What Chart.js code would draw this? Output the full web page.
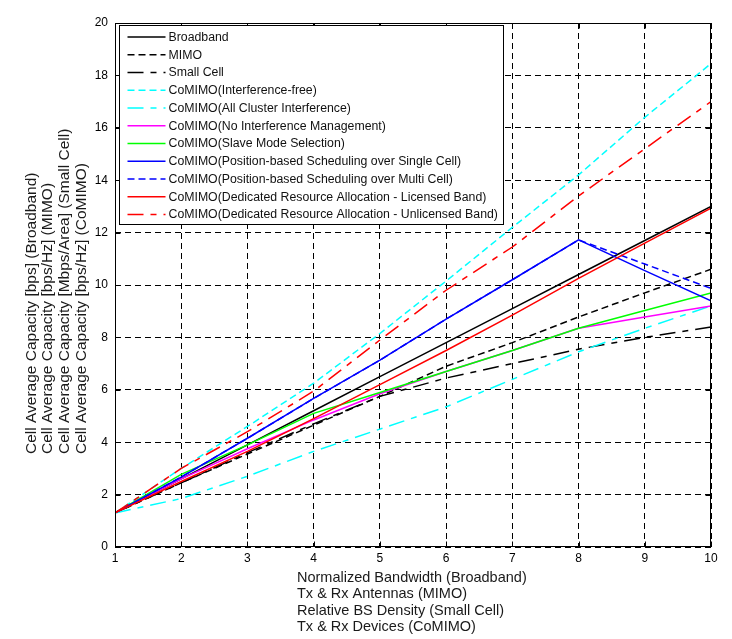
<!DOCTYPE html>
<html>
<head>
<meta charset="utf-8">
<script src="https://cdn.jsdelivr.net/npm/chart.js@4.4.1/dist/chart.umd.min.js"></script>
<style>
  html, body { margin: 0; padding: 0; background: #fff; }
  #wrap { width: 732px; height: 639px; }
</style>
</head>
<body>
<div id="wrap"><canvas id="myChart" width="732" height="639"></canvas></div>
<script>
// x values (same for all series)
var xValues = [1, 2, 3, 4, 5, 6, 7, 8, 9, 10];

// series values
var broadband        = [1.3, 2.6, 3.9, 5.2, 6.5, 7.8, 9.1, 10.4, 11.7, 13.0];
var mimo             = [1.3, 2.45, 3.55, 4.65, 5.75, 6.9, 7.8, 8.78, 9.7, 10.6];
var smallCell        = [1.3, 2.45, 3.6, 4.7, 5.75, 6.45, 7.0, 7.55, 8.0, 8.4];
var interferenceFree = [1.3, 3.0, 4.6, 6.25, 8.15, 10.15, 12.2, 14.2, 16.4, 18.45];
var allCluster       = [1.3, 1.85, 2.7, 3.65, 4.5, 5.35, 6.4, 7.45, 8.35, 9.2];
var noIntfMgmt       = [1.3, 2.6, 3.75, 4.85, 5.85, 6.7, 7.5, 8.35, 8.78, 9.2];
var slaveMode        = [1.3, 2.77, 3.9, 5.1, 5.9, 6.7, 7.5, 8.35, 9.03, 9.7];
var posSingle        = [1.3, 2.67, 4.15, 5.67, 7.13, 8.7, 10.2, 11.72, 10.55, 9.4];
var posMulti         = [1.3, 2.67, 4.15, 5.67, 7.13, 8.7, 10.2, 11.72, 10.8, 9.87];
var licensed         = [1.3, 2.5, 3.65, 4.9, 6.2, 7.5, 8.85, 10.25, 11.6, 12.93];
var unlicensed       = [1.3, 3.0, 4.4, 5.95, 7.9, 9.8, 11.45, 13.4, 15.2, 17.0];

var seriesLabels = [
    'Broadband',
    'MIMO',
    'Small Cell',
    'CoMIMO(Interference-free)',
    'CoMIMO(All Cluster Interference)',
    'CoMIMO(No Interference Management)',
    'CoMIMO(Slave Mode Selection)',
    'CoMIMO(Position-based Scheduling over Single Cell)',
    'CoMIMO(Position-based Scheduling over Multi Cell)',
    'CoMIMO(Dedicated Resource Allocation - Licensed Band)',
    'CoMIMO(Dedicated Resource Allocation - Unlicensed Band)'
];
var seriesValues = [broadband, mimo, smallCell, interferenceFree, allCluster,
    noIntfMgmt, slaveMode, posSingle, posMulti, licensed, unlicensed];

var xTicks = [1, 2, 3, 4, 5, 6, 7, 8, 9, 10];
var yTicks = [0, 2, 4, 6, 8, 10, 12, 14, 16, 18, 20];

var xTitle = [
    'Normalized Bandwidth (Broadband)',
    'Tx & Rx Antennas (MIMO)',
    'Relative BS Density (Small Cell)',
    'Tx & Rx Devices (CoMIMO)'
];
var yTitle = [
    'Cell Average Capacity [bps] (Broadband)',
    'Cell Average Capacity [bps/Hz] (MIMO)',
    'Cell Average Capacity [Mbps/Area] (Small Cell)',
    'Cell Average Capacity [bps/Hz] (CoMIMO)'
];

// styles
var colors = ['#000000', '#000000', '#000000', '#00ffff', '#00ffff', '#ff00ff',
    '#00ff00', '#0000ff', '#0000ff', '#ff0000', '#ff0000'];
var DASH = [7, 4];
var DASHDOT = [16, 7, 6, 7];
var dashes = [[], DASH, DASHDOT, DASH, DASHDOT, [], [], [], DASH, [], DASHDOT];

var FONT = '"Liberation Sans", Arial, Helvetica, sans-serif';

var datasets = seriesValues.map(function (vals, i) {
    return {
        label: seriesLabels[i],
        data: vals.map(function (v, j) { return { x: xValues[j], y: v }; }),
        borderColor: colors[i],
        backgroundColor: colors[i],
        borderDash: dashes[i],
        borderWidth: 1.5,
        pointRadius: 0,
        tension: 0,
        fill: false,
        order: seriesValues.length - i   // later series on top, like matlab
    };
});

// box frame + inward tick marks
var frameTicks = {
    id: 'frameTicks',
    afterDatasetsDraw: function (chart) {
        var ctx = chart.ctx, a = chart.chartArea;
        var l = Math.round(a.left) + 0.5, r = Math.round(a.right) - 0.5;
        var t = Math.round(a.top) + 0.5, b = Math.round(a.bottom) - 0.5;
        ctx.save();
        ctx.strokeStyle = '#000';
        ctx.lineWidth = 1;
        ctx.setLineDash([]);
        ctx.strokeRect(l, t, r - l, b - t);
        ctx.beginPath();
        xTicks.forEach(function (v) {
            var px = Math.round(chart.scales.x.getPixelForValue(v)) + 0.5;
            ctx.moveTo(px, b); ctx.lineTo(px, b - 5);
            ctx.moveTo(px, t); ctx.lineTo(px, t + 5);
        });
        yTicks.forEach(function (v) {
            var py = Math.round(chart.scales.y.getPixelForValue(v)) + 0.5;
            ctx.moveTo(l, py); ctx.lineTo(l + 5, py);
            ctx.moveTo(r, py); ctx.lineTo(r - 5, py);
        });
        ctx.stroke();
        ctx.restore();
    }
};

// legend inside the axes, top-left
var boxLegend = {
    id: 'boxLegend',
    afterDraw: function (chart) {
        var ctx = chart.ctx, a = chart.chartArea;
        var x0 = Math.round(a.left) + 4.5, y0 = Math.round(a.top) + 2.5;
        var w = 384, h = 199, rowH = 17.75;
        ctx.save();
        ctx.fillStyle = '#fff';
        ctx.fillRect(x0, y0, w, h);
        ctx.strokeStyle = '#000';
        ctx.lineWidth = 1;
        ctx.setLineDash([]);
        ctx.strokeRect(x0, y0, w, h);
        ctx.font = '12.3px ' + FONT;
        ctx.textBaseline = 'middle';
        ctx.textAlign = 'left';
        chart.data.datasets.forEach(function (ds, i) {
            var y = y0 + 11.5 + i * rowH;
            ctx.strokeStyle = ds.borderColor;
            ctx.lineWidth = ds.borderWidth;
            ctx.setLineDash(ds.borderDash || []);
            ctx.beginPath();
            ctx.moveTo(x0 + 8, y);
            ctx.lineTo(x0 + 46, y);
            ctx.stroke();
            ctx.setLineDash([]);
            ctx.fillStyle = '#111';
            ctx.fillText(ds.label, x0 + 49, y + 0.5);
        });
        ctx.restore();
    }
};

// multi-line axis titles, lines left aligned
var axisTitles = {
    id: 'axisTitles',
    afterDraw: function (chart) {
        var ctx = chart.ctx;
        ctx.save();
        ctx.fillStyle = '#1a1a1a';
        ctx.textBaseline = 'middle';
        ctx.textAlign = 'left';
        ctx.font = '14.5px ' + FONT;
        xTitle.forEach(function (s, i) {
            ctx.fillText(s, 297, 578 + i * 16.4);
        });
        ctx.font = '15.5px ' + FONT;
        yTitle.forEach(function (s, i) {
            ctx.save();
            ctx.translate(31.5 + i * 16.6, 454);
            ctx.rotate(-Math.PI / 2);
            ctx.fillText(s, 0, 0);
            ctx.restore();
        });
        ctx.restore();
    }
};

var ctx = document.getElementById('myChart').getContext('2d');
var myChart = new Chart(ctx, {
    type: 'line',
    data: { datasets: datasets },
    options: {
        responsive: false,
        animation: false,
        devicePixelRatio: 1,
        layout: { padding: { left: 0, top: 23, right: 21, bottom: 0 } },
        plugins: {
            legend: { display: false },
            tooltip: { enabled: false }
        },
        scales: {
            x: {
                type: 'linear',
                min: 1,
                max: 10,
                afterFit: function (scale) { scale.height = 92; },
                afterBuildTicks: function (scale) {
                    scale.ticks = xTicks.map(function (v) { return { value: v }; });
                },
                ticks: {
                    color: '#000',
                    font: { family: FONT, size: 12 },
                    padding: 4,
                    maxRotation: 0
                },
                grid: { color: '#000', lineWidth: 1, drawTicks: false },
                border: { display: false, dash: [6, 4] }
            },
            y: {
                type: 'linear',
                min: 0,
                max: 20,
                afterFit: function (scale) { scale.width = 115; },
                afterBuildTicks: function (scale) {
                    scale.ticks = yTicks.map(function (v) { return { value: v }; });
                },
                ticks: {
                    color: '#000',
                    font: { family: FONT, size: 12 },
                    padding: 7
                },
                grid: { color: '#000', lineWidth: 1, drawTicks: false },
                border: { display: false, dash: [6, 4] }
            }
        }
    },
    plugins: [frameTicks, boxLegend, axisTitles]
});
</script>
</body>
</html>
